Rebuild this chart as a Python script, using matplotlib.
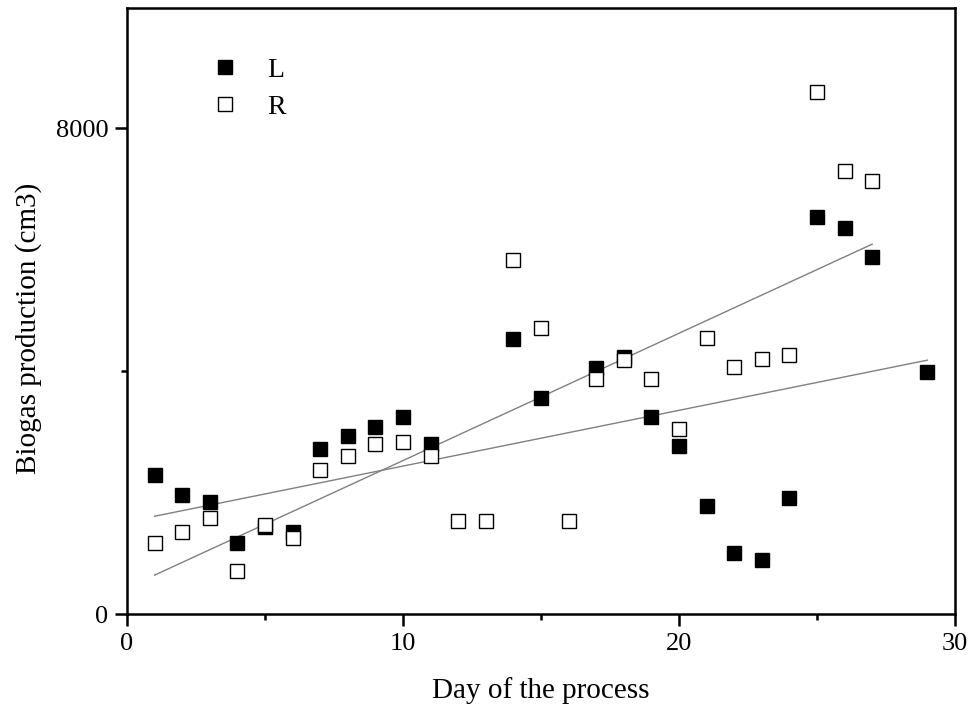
import numpy as np
import matplotlib
matplotlib.use("Agg")
import matplotlib.pyplot as plt

plt.rcParams['font.family'] = ['Liberation Serif', 'DejaVu Serif']

# day of the process and biogas production (cm3)
days_L = [1, 2, 3, 4, 5, 6, 7, 8, 9, 10, 11, 14, 15, 17, 18, 19, 20, 21, 22, 23, 24, 25, 26, 27, 29]
gas_L = [2290, 1960, 1840, 1170, 1440, 1350, 2720, 2930, 3080, 3250, 2800, 4530, 3560,
         4050, 4230, 3240, 2770, 1780, 1000, 890, 1910, 6530, 6350, 5880, 3980]
days_R = list(range(1, 28))
gas_R = [1170, 1350, 1580, 710, 1470, 1250, 2370, 2600, 2800, 2830, 2600, 1530, 1530,
         5830, 4710, 1530, 3870, 4180, 3870, 3050, 4540, 4070, 4200, 4260, 8590, 7290, 7130]

# trend lines as drawn in the original (end values)
trend_days_L = [1, 29]
trend_gas_L = [1610, 4180]
trend_days_R = [1, 27]
trend_gas_R = [640, 6090]

fig = plt.figure(figsize=(9.7, 7.07), dpi=100)
ax = fig.add_axes([0.1309, 0.1315, 0.8536, 0.8573])

ax.plot(days_L, gas_L, 's', color='black', markersize=9.5, label='L', zorder=3)
ax.plot(days_R, gas_R, 's', markerfacecolor='white', markeredgecolor='black',
        markeredgewidth=1.0, markersize=9.5, label='R', zorder=3)

ax.plot(trend_days_L, trend_gas_L, color='#808080', linewidth=1.0, zorder=2)
ax.plot(trend_days_R, trend_gas_R, color='#808080', linewidth=1.0, zorder=2)

ax.set_xlim(0, 30)
ax.set_ylim(0, 9980)
ax.set_xticks([0, 10, 20, 30])
ax.set_xticks([5, 15, 25], minor=True)
ax.set_yticks([0, 8000])
ax.set_yticks([4000], minor=True)

for s in ax.spines.values():
    s.set_linewidth(1.8)
ax.tick_params(which='major', direction='out', length=8.5, width=1.8, labelsize=19, pad=5)
ax.tick_params(which='minor', direction='out', length=4, width=1.8)

ax.set_xlabel('Day of the process', fontsize=21, labelpad=16)
ax.set_ylabel('Biogas production (cm3)', fontsize=21)
ax.yaxis.set_label_coords(-0.103, 0.472)

ax.legend(loc='upper left', bbox_to_anchor=(0.072, 0.960), frameon=False, fontsize=20,
          handlelength=1.0, handletextpad=1.0, labelspacing=0.42, numpoints=1)

fig.savefig('out.png', dpi=100)
